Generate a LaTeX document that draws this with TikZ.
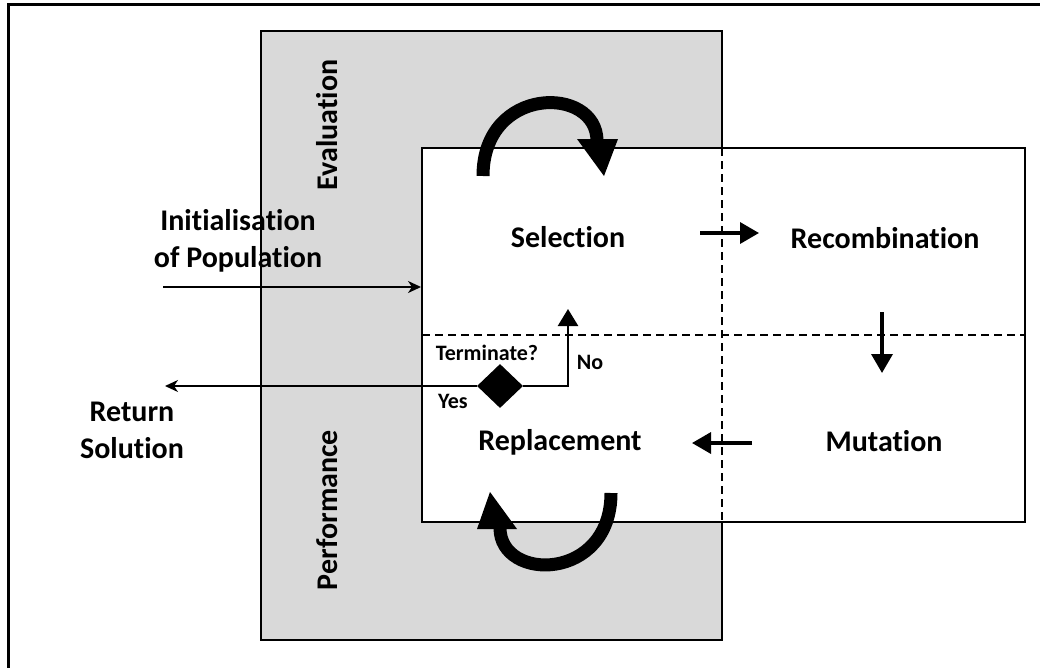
\documentclass[tikz,border=0pt]{standalone}
\usepackage{fontspec}
\setmainfont{Carlito}[Ligatures=NoCommon]
\usetikzlibrary{arrows.meta,shapes.geometric}
\definecolor{panelgray}{HTML}{D9D9D9}

\begin{document}
\begin{tikzpicture}[x=1pt,y=-1pt,
  lbl/.style={font=\fontsize{30}{37}\selectfont\bfseries, align=center, inner sep=0pt},
  small/.style={font=\fontsize{22}{26}\selectfont\bfseries, inner sep=0pt},
  boxline/.style={line width=2.2pt},
  divider/.style={line width=2pt, dash pattern=on 8pt off 5pt},
  flow/.style={line width=3.5pt, -{Triangle[length=19pt,width=21pt]}},
  thinarrow/.style={line width=2pt, -{Stealth[length=13pt,width=12pt,inset=4pt]}},
  bigloop/.style={line width=13pt}
]
\useasboundingbox (0,0) rectangle (1040,667);

% outer frame
\draw[line width=3pt] (8,680) -- (8,4.5) -- (1060,4.5);

% evaluation / performance panel and the cycle box
\filldraw[fill=panelgray, boxline] (261,31) rectangle (722,640);
\filldraw[fill=white, boxline] (422,148) rectangle (1025,522);
\draw[divider] (722,148) -- (722,522);
\draw[divider] (422,335) -- (1025,335);

% panel captions
\node[lbl, rotate=90] (eval) at (327,125) {Evaluation};
\node[lbl, rotate=90] (perf) at (327,510) {Performance};

% stage labels
\node[lbl] (sel) at (568,237) {Selection};
\node[lbl] (rec) at (885,238) {Recombination};
\node[lbl] (mut) at (884,441) {Mutation};
\node[lbl] (rep) at (560,442) {Replacement};

% outside labels
\node[lbl] (init) at (238,241) {Initialisation\\of Population};
\node[lbl] (ret) at (132,430) {Return\\Solution};

% termination test
\node[diamond, fill=black, minimum width=46pt, minimum height=44pt, inner sep=0pt] (term) at (500,386) {};
\node[small] (tq) at (487,353) {Terminate?};
\node[small] (yes) at (453,401) {Yes};
\node[small] (no) at (590,362) {No};

% arrow end points
\coordinate (srA) at (700,233);
\coordinate (srB) at (759,233);
\coordinate (rmA) at (882,312);
\coordinate (rmB) at (882,373);
\coordinate (mrA) at (752,443);
\coordinate (mrB) at (692,443);
\coordinate (initA) at (163,287);
\coordinate (initB) at (421,287);
\coordinate (retB) at (165,386);
\coordinate (noB) at (568,309);

% cycle arrows
\draw[flow] (srA) -- (srB);
\draw[flow] (rmA) -- (rmB);
\draw[flow] (mrA) -- (mrB);

% entry and exit
\draw[thinarrow] (initA) -- (initB);
\draw[thinarrow] (term.west) -- (retB);
\draw[line width=2.5pt, -{Triangle[length=17pt,width=20pt]}] (term.east) -| (noB);

% evaluation loop (top)
\draw[bigloop] (483,176) .. controls (483,85) and (597,85) .. (597,141);
\fill (577,139) -- (618,139) -- (604,176) -- cycle;

% performance loop (bottom)
\draw[bigloop] (611,493) .. controls (611,582) and (500,582) .. (500,528);
\fill (477,529) -- (517,529) -- (490,492) -- cycle;
\end{tikzpicture}
\end{document}
